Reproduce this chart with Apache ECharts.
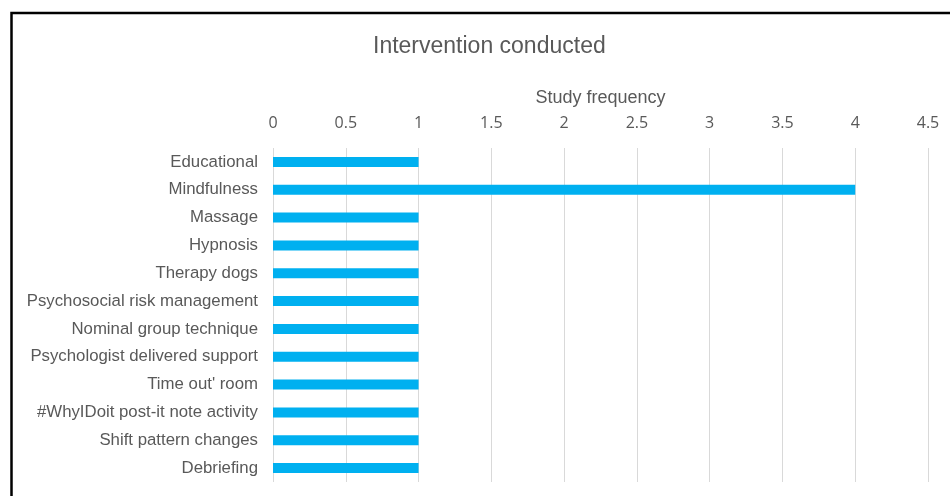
<!DOCTYPE html>
<html>
<head>
<meta charset="utf-8">
<script src="https://cdn.jsdelivr.net/npm/echarts@6/dist/echarts.min.js"></script>
<style>
  html, body { margin: 0; padding: 0; background: #ffffff; }
  #chart { width: 950px; height: 496px; }
</style>
</head>
<body>
<div id="chart"></div>
<script>
// Intervention types, listed top to bottom
const categories = [
  'Educational',
  'Mindfulness',
  'Massage',
  'Hypnosis',
  'Therapy dogs',
  'Psychosocial risk management',
  'Nominal group technique',
  'Psychologist delivered support',
  "Time out' room",
  '#WhyIDoit post-it note activity',
  'Shift pattern changes',
  'Debriefing'
];
// Number of studies per intervention
const frequency = [1, 4, 1, 1, 1, 1, 1, 1, 1, 1, 1, 1];

const chart = echarts.init(document.getElementById('chart'), null, { renderer: 'canvas' });
const textColor = '#595959';
const fontFamily = '"Liberation Sans", Arial, sans-serif';

chart.setOption({
  backgroundColor: '#ffffff',
  animation: false,
  title: {
    text: 'Intervention conducted',
    left: 368,
    top: 30,
    textStyle: { color: textColor, fontSize: 23, fontWeight: 'normal', fontFamily }
  },
  graphic: [{
    type: 'rect',
    shape: { x: 11.5, y: 13, width: 1000, height: 600 },
    style: { fill: 'none', stroke: '#000000', lineWidth: 2.5 },
    silent: true
  }],
  grid: { left: 273, right: 22, top: 148, bottom: 14, containLabel: false },
  xAxis: {
    type: 'value',
    position: 'top',
    min: 0,
    max: 4.5,
    interval: 0.5,
    name: 'Study frequency',
    nameLocation: 'middle',
    nameGap: 41,
    nameTextStyle: { color: textColor, fontSize: 18, fontFamily },
    axisLine: { show: false },
    axisTick: { show: false },
    axisLabel: { color: textColor, fontSize: 16, margin: 17, fontFamily: '"Open Sans", sans-serif' },
    splitLine: { show: true, lineStyle: { color: '#d9d9d9', width: 1 } }
  },
  yAxis: {
    type: 'category',
    inverse: true,
    data: categories,
    axisLine: { show: false },
    axisTick: { show: false },
    axisLabel: { color: textColor, fontSize: 16.8, margin: 15, fontFamily }
  },
  series: [{
    type: 'bar',
    data: frequency,
    barWidth: 10,
    itemStyle: { color: '#00B0F0' }
  }]
});
</script>
</body>
</html>
